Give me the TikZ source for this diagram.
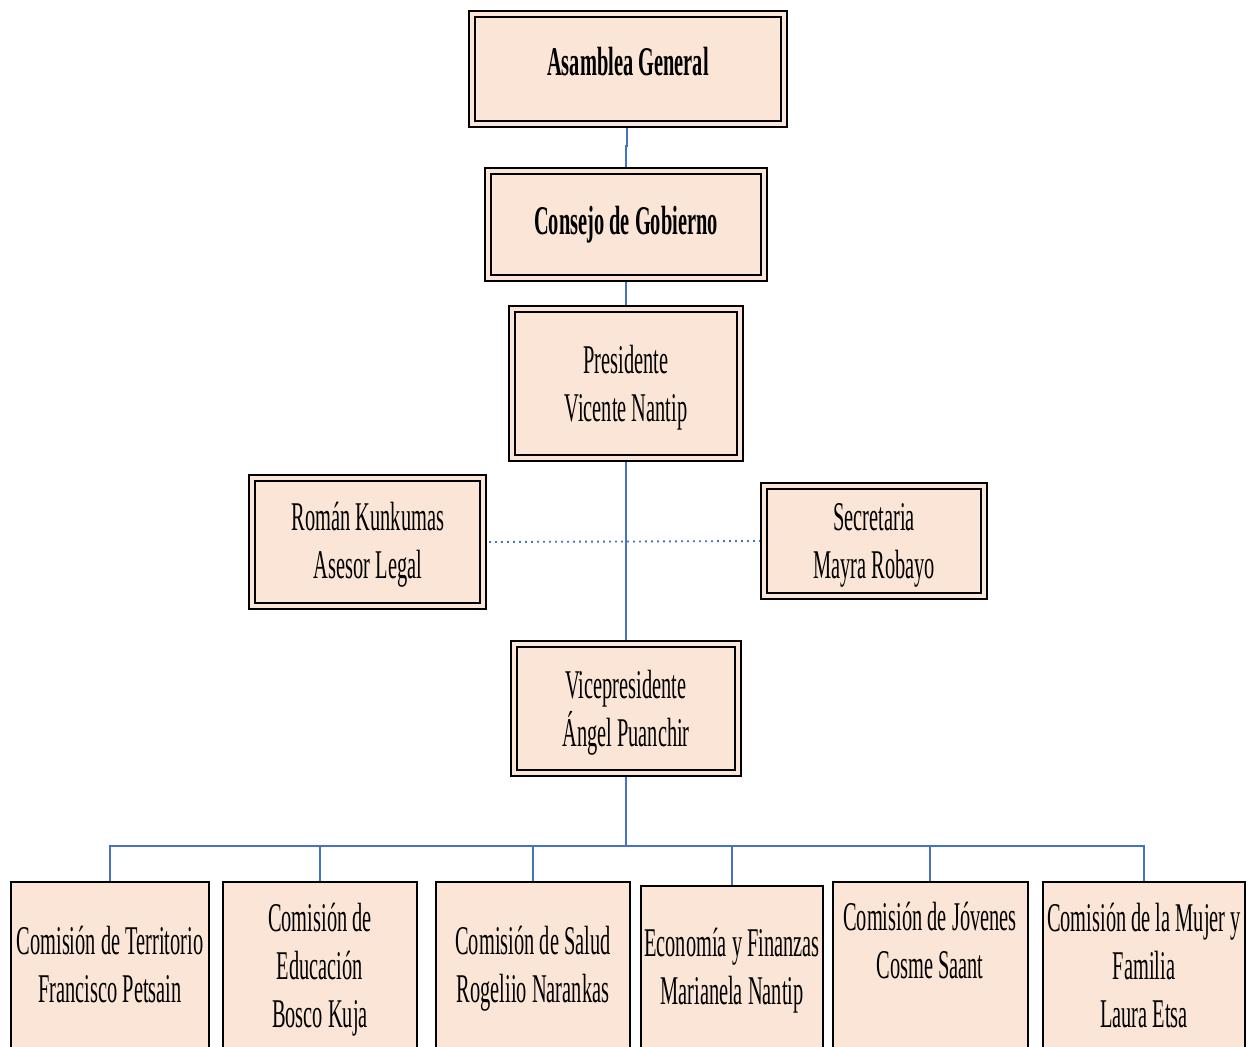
\documentclass[tikz,border=0pt]{standalone}
\usepackage{fontspec}
\setmainfont{Liberation Serif}[FakeStretch=0.5]
\pgfdeclarelayer{bg}
\pgfsetlayers{bg,main}
\definecolor{boxfill}{HTML}{FBE5D6}
\definecolor{linkblue}{HTML}{4472C4}
% line strut: 28pt above the baseline, 8pt below
\newcommand\lstrut{\rule[-8pt]{0pt}{36pt}}
\begin{document}
\begin{tikzpicture}[x=0.75pt,y=-0.75pt,
  dbox/.style 2 args={draw=black, line width=1.6pt, double=boxfill,
    double distance=2.4pt, fill=boxfill, inner sep=0pt, outer sep=0pt,
    minimum width=#1*0.75pt, minimum height=#2*0.75pt},
  sbox/.style 2 args={draw=black, line width=1.5pt, fill=boxfill,
    inner sep=0pt, outer sep=0pt,
    minimum width=#1*0.75pt, minimum height=#2*0.75pt},
  txt/.style={align=center, inner sep=0pt,
    font=\fontsize{30.6pt}{36pt}\selectfont},
  link/.style={draw=linkblue, line width=1.1pt},
  dots/.style={draw=linkblue, line width=1.4pt, dash pattern=on 1.4pt off 3.1pt}]
\useasboundingbox (0,0) rectangle (1260,1046);
\clip (0,0) rectangle (1260,1046);

% upper chain
\node[dbox={312}{110}] (asamblea) at (628,69) {};
\node[txt] (asambleaT) at (628,62.5) {\lstrut\bfseries Asamblea General};
\node[dbox={276}{107}] (consejo) at (626,224.5) {};
\node[txt] (consejoT) at (626,221) {\lstrut\bfseries Consejo de Gobierno};
\node[dbox={228}{149}] (presidente) at (626,383.5) {};
\node[txt] (presidenteT) at (626,384) {\lstrut Presidente\\\lstrut Vicente Nantip};
\node[dbox={231}{128}] (roman) at (367.5,542) {};
\node[txt] (romanT) at (368,541) {\lstrut Román Kunkumas\\\lstrut Asesor Legal};
\node[dbox={220}{110}] (secretaria) at (874,541) {};
\node[txt] (secretariaT) at (874,541) {\lstrut Secretaria\\\lstrut Mayra Robayo};
\node[dbox={224}{129}] (vice) at (626,708.5) {};
\node[txt] (viceT) at (626,709) {\lstrut Vicepresidente\\\lstrut Ángel Puanchir};

% commissions
\node[sbox={198}{178}] (c1) at (110,971) {};
\node[txt] (c1T) at (110,965.5) {\lstrut Comisión de Territorio\\\lstrut Francisco Petsain};
\node[sbox={194}{178}] (c2) at (320,971) {};
\node[txt] (c2T) at (320,966) {\lstrut Comisión de\\\lstrut Educación\\\lstrut Bosco Kuja};
\node[sbox={194}{178}] (c3) at (533,971) {};
\node[txt] (c3T) at (533,965.5) {\lstrut Comisión de Salud\\\lstrut Rogeliio Narankas};
\node[sbox={182}{174}] (c4) at (732,973) {};
\node[txt] (c4T) at (732,967.5) {\lstrut Economía y Finanzas\\\lstrut Marianela Nantip};
\node[sbox={195}{178}] (c5) at (930,971) {};
\node[txt] (c5T) at (930,941.5) {\lstrut Comisión de Jóvenes\\\lstrut Cosme Saant};
\node[sbox={202}{178}] (c6) at (1144,971) {};
\node[txt] (c6T) at (1144,966) {\lstrut Comisión de la Mujer y\\\lstrut Familia\\\lstrut Laura Etsa};

\coordinate (bus) at (626,846);

\begin{pgfonlayer}{bg}
\draw[link] ([xshift=-0.75pt]asamblea.south) -- ++(0,22) -| (consejo.north);
\draw[link] (consejo.south) -- (presidente.north);
\draw[link] (presidente.south) -- (vice.north);
\draw[dots] (roman.east) -- (secretaria.west);
\draw[link] (vice.south) -- (bus);
\draw[link] (c1.north) |- (c6.north |- bus) -- (c6.north);
\foreach \c in {c2,c3,c4,c5}
  \draw[link] (\c.north) -- (\c.north |- bus);
\end{pgfonlayer}
\end{tikzpicture}
\end{document}
